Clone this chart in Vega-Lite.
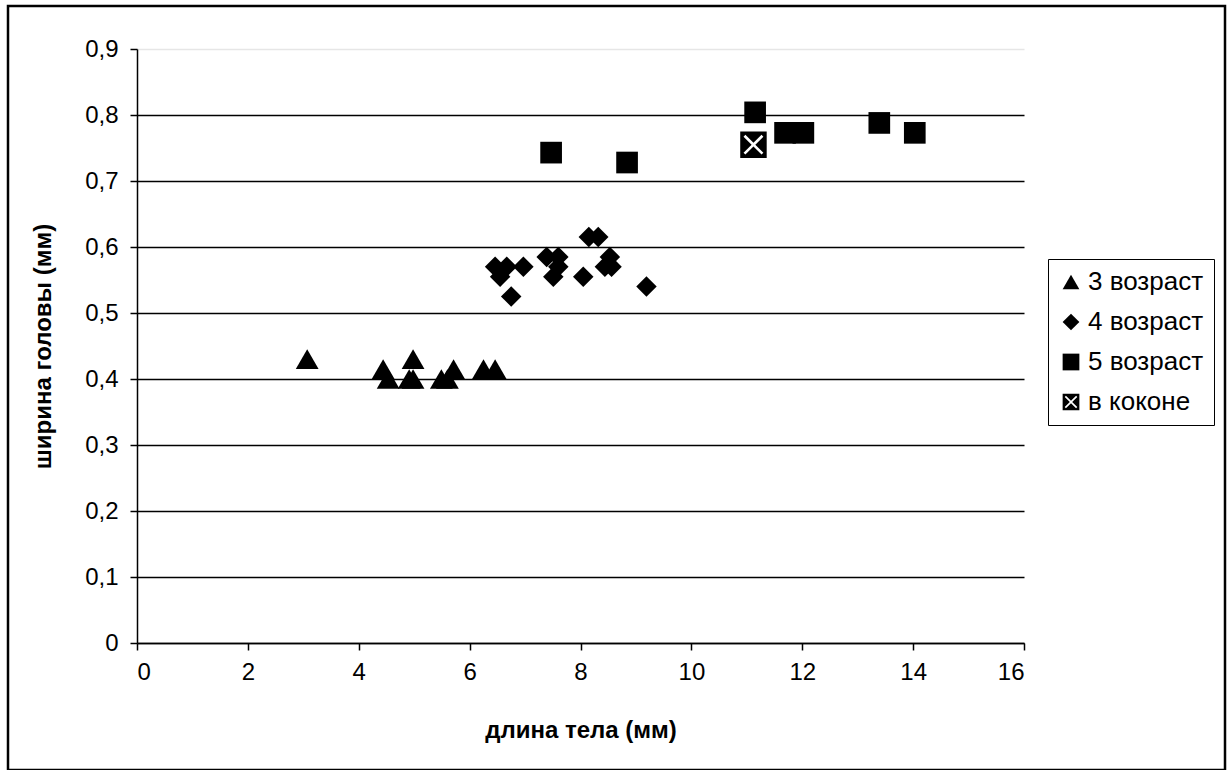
{
  "$schema": "https://vega.github.io/schema/vega-lite/v6.json",
  "autosize": "none",
  "padding": {"left": 8, "top": 6, "right": 5, "bottom": 0},
  "width": 1217,
  "height": 764,
  "background": "white",
  "config": {
    "view": {"stroke": "black", "strokeWidth": 2.5},
    "font": "Liberation Sans",
    "axis": {
      "labelFont": "Liberation Sans",
      "titleFont": "Liberation Sans",
      "labelColor": "black",
      "titleColor": "black",
      "domainColor": "black",
      "domainWidth": 1.5,
      "tickColor": "black",
      "tickWidth": 1.5,
      "tickSize": 7,
      "labelFontSize": 24,
      "titleFontSize": 24,
      "titleFontWeight": "bold"
    },
    "legend": {
      "orient": "none",
      "legendX": 1040,
      "legendY": 253,
      "strokeColor": "black",
      "fillColor": "white",
      "padding": 10,
      "labelFont": "Liberation Sans",
      "labelFontSize": 26,
      "labelColor": "black",
      "symbolSize": 280,
      "symbolFillColor": "black",
      "symbolStrokeWidth": 0,
      "rowPadding": 14,
      "labelOffset": 4,
      "cornerRadius": 0
    }
  },
  "data": {
    "values": [
      {"L": 3.07, "W": 0.43, "group": "3 возраст"},
      {"L": 4.44, "W": 0.415, "group": "3 возраст"},
      {"L": 4.53, "W": 0.40, "group": "3 возраст"},
      {"L": 4.91, "W": 0.40, "group": "3 возраст"},
      {"L": 4.98, "W": 0.40, "group": "3 возраст"},
      {"L": 4.98, "W": 0.43, "group": "3 возраст"},
      {"L": 5.49, "W": 0.40, "group": "3 возраст"},
      {"L": 5.60, "W": 0.40, "group": "3 возраст"},
      {"L": 5.71, "W": 0.415, "group": "3 возраст"},
      {"L": 6.25, "W": 0.415, "group": "3 возраст"},
      {"L": 6.46, "W": 0.415, "group": "3 возраст"},
      {"L": 6.46, "W": 0.57, "group": "4 возраст"},
      {"L": 6.55, "W": 0.555, "group": "4 возраст"},
      {"L": 6.67, "W": 0.57, "group": "4 возраст"},
      {"L": 6.75, "W": 0.525, "group": "4 возраст"},
      {"L": 6.97, "W": 0.57, "group": "4 возраст"},
      {"L": 7.39, "W": 0.585, "group": "4 возраст"},
      {"L": 7.60, "W": 0.585, "group": "4 возраст"},
      {"L": 7.51, "W": 0.555, "group": "4 возраст"},
      {"L": 7.60, "W": 0.57, "group": "4 возраст"},
      {"L": 8.05, "W": 0.555, "group": "4 возраст"},
      {"L": 8.15, "W": 0.615, "group": "4 возраст"},
      {"L": 8.32, "W": 0.615, "group": "4 возраст"},
      {"L": 8.53, "W": 0.585, "group": "4 возраст"},
      {"L": 8.44, "W": 0.57, "group": "4 возраст"},
      {"L": 8.56, "W": 0.57, "group": "4 возраст"},
      {"L": 9.19, "W": 0.54, "group": "4 возраст"},
      {"L": 7.47, "W": 0.743, "group": "5 возраст"},
      {"L": 8.84, "W": 0.728, "group": "5 возраст"},
      {"L": 11.15, "W": 0.804, "group": "5 возраст"},
      {"L": 11.69, "W": 0.773, "group": "5 возраст"},
      {"L": 12.02, "W": 0.773, "group": "5 возраст"},
      {"L": 13.39, "W": 0.788, "group": "5 возраст"},
      {"L": 14.03, "W": 0.773, "group": "5 возраст"},
      {"L": 11.12, "W": 0.755, "group": "в коконе"}
    ]
  },
  "encoding": {
    "x": {
      "field": "L",
      "type": "quantitative",
      "title": "длина тела (мм)",
      "scale": {"domain": [0, 16], "range": [129, 1016], "nice": false, "zero": false},
      "axis": {
        "values": [0, 2, 4, 6, 8, 10, 12, 14, 16],
        "grid": false,
        "offset": -127,
        "labelPadding": 10,
        "titlePadding": 34
      }
    },
    "y": {
      "field": "W",
      "type": "quantitative",
      "title": "ширина головы (мм)",
      "scale": {"domain": [0, 0.9], "range": [637, 43], "nice": false, "zero": false},
      "axis": {
        "values": [0, 0.1, 0.2, 0.3, 0.4, 0.5, 0.6, 0.7, 0.8, 0.9],
        "labelExpr": "replace(format(datum.value, '.1~f'), '.', ',')",
        "grid": true,
        "gridColor": {"condition": {"test": "datum.value >= 0.85", "value": "#e6e6e6"}, "value": "black"},
        "gridWidth": 1.5,
        "offset": -129,
        "labelPadding": 12,
        "titlePadding": 29
      }
    },
    "shape": {
      "field": "group",
      "type": "nominal",
      "title": null,
      "scale": {
        "domain": ["3 возраст", "4 возраст", "5 возраст", "в коконе"],
        "range": ["triangle-up", "diamond", "square", "M-1,-1V1H1V-1Z M-0.75,-0.61L-0.61,-0.75L0,-0.14L0.61,-0.75L0.75,-0.61L0.14,0L0.75,0.61L0.61,0.75L0,0.14L-0.61,0.75L-0.75,0.61L-0.14,0Z"]
      }
    }
  },
  "layer": [
    {
      "transform": [{"filter": "datum.group === '3 возраст'"}],
      "mark": {"type": "point", "filled": true, "opacity": 1, "color": "black", "strokeWidth": 0, "size": 520}
    },
    {
      "transform": [{"filter": "datum.group === '4 возраст'"}],
      "mark": {"type": "point", "filled": true, "opacity": 1, "color": "black", "strokeWidth": 0, "size": 420}
    },
    {
      "transform": [{"filter": "datum.group === '5 возраст'"}],
      "mark": {"type": "point", "filled": true, "opacity": 1, "color": "black", "strokeWidth": 0, "size": 470}
    },
    {
      "transform": [{"filter": "datum.group === 'в коконе'"}],
      "mark": {"type": "point", "filled": true, "opacity": 1, "color": "black", "strokeWidth": 0, "size": 700}
    }
  ]
}
